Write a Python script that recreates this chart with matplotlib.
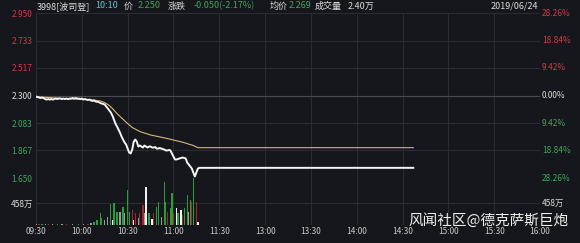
import matplotlib
matplotlib.use("Agg")
import matplotlib.pyplot as plt

plt.rcParams['font.family'] = ['Noto Sans CJK SC', 'DejaVu Sans']

# trading minutes counted from 09:30, lunch break removed (11:30 -> 13:00 is one step)
time_labels = ["09:30", "10:00", "10:30", "11:00", "11:30", "13:00", "13:30",
               "14:00", "14:30", "15:00", "15:30", "16:00"]
time_ticks = list(range(0, 331, 30))

price_ticks = [2.950, 2.733, 2.517, 2.300, 2.083, 1.867, 1.650]
price_labels = ["2.950", "2.733", "2.517", "2.300", "2.083", "1.867", "1.650"]
pct_labels = ["28.26%", "18.84%", "9.42%", "0.00%", "9.42%", "18.84%", "28.26%"]
vol_tick = 458

price_min = list(range(0, 108)) + [247]
price = [2.292, 2.288, 2.284, 2.280, 2.284, 2.280, 2.272, 2.268, 2.272, 2.268,
         2.272, 2.268, 2.272, 2.276, 2.272, 2.276, 2.276, 2.272, 2.276, 2.272,
         2.276, 2.272, 2.276, 2.276, 2.280, 2.276, 2.280, 2.276, 2.276, 2.272,
         2.276, 2.268, 2.272, 2.268, 2.265, 2.268, 2.261, 2.257, 2.261, 2.253,
         2.250, 2.249, 2.241, 2.237, 2.233, 2.229, 2.213, 2.198, 2.182, 2.166,
         2.142, 2.111, 2.079, 2.056, 2.032, 2.008, 1.977, 1.953, 1.930, 1.914,
         1.882, 1.851, 1.843, 1.874, 1.937, 1.953, 1.937, 1.898, 1.906, 1.898,
         1.890, 1.906, 1.898, 1.890, 1.898, 1.898, 1.890, 1.890, 1.894, 1.882,
         1.882, 1.886, 1.882, 1.878, 1.874, 1.867, 1.867, 1.871, 1.867, 1.843,
         1.819, 1.796, 1.796, 1.800, 1.804, 1.808, 1.811, 1.808, 1.804, 1.772,
         1.756, 1.741, 1.725, 1.693, 1.662, 1.693, 1.725, 1.730, 1.730]

avg_min = [0, 9, 18, 29, 37, 42, 44, 46, 48, 50, 53, 55, 60, 63, 68, 75, 86, 96, 103, 106, 247]
avg_price = [2.288, 2.284, 2.276, 2.271, 2.265, 2.257, 2.249, 2.237, 2.221, 2.198,
             2.158, 2.135, 2.079, 2.048, 2.016, 1.989, 1.961, 1.932, 1.906, 1.889, 1.889]

vol_min = [0, 2, 4, 6, 8, 11, 14, 17, 20, 24, 28, 31, 34, 36, 38, 40, 42, 43, 45, 47,
           49, 50, 51, 53, 55, 57, 58, 60, 61, 63, 64, 65, 67, 68, 70, 71, 72, 74, 76, 77,
           79, 80, 82, 84, 85, 86, 88, 89, 90, 92, 93, 95, 96, 97, 99, 100, 101, 102, 103,
           105, 106]
vol = [25, 15, 20, 15, 20, 15, 20, 15, 15, 20, 15, 20, 30, 40, 60, 100, 250, 146, 104, 166,
       437, 104, 458, 270, 270, 374, 250, 728, 270, 312, 104, 250, 146, 250, 416, 250, 790,
       250, 125, 250, 374, 478, 166, 894, 478, 270, 354, 666, 250, 354, 250, 312, 208, 354,
       624, 270, 520, 478, 978, 478, 62]
vol_dir = ['s', 'r', 'g', 's', 'r', 's', 'g', 's', 'r', 's', 'g', 's', 'r', 's', 'g', 'g',
           'g', 'g', 's', 's', 'g', 'w', 'g', 'g', 's', 'g', 's', 'g', 'g', 'r', 'w', 'r',
           's', 'r', 'r', 's', 'w', 'g', 'w', 'r', 'g', 'g', 's', 'g', 'g', 'r', 'g', 'g',
           'r', 'w', 'g', 'w', 'r', 'g', 'g', 's', 'g', 'r', 'g', 'r', 'w']

bg = '#16171c'
grid_c = '#2b2c32'
red = '#cf3a48'
green = '#3fa55a'
white = '#dcdcdc'
bar_colors = {'g': '#2a9c3a', 'r': '#a3262a', 'w': '#f2f2f2', 's': '#9c9c9c'}

W, H = 580, 243
fig = plt.figure(figsize=(W / 100, H / 100), dpi=100, facecolor=bg)
ax = fig.add_axes([36 / W, (H - 178) / H, 504 / W, 165 / H])
vax = fig.add_axes([36 / W, (H - 225) / H, 504 / W, 47 / H])

for a in (ax, vax):
    a.set_facecolor('none')
    for s in a.spines.values():
        s.set_visible(False)
    a.set_xlim(0, 330)
    a.set_xticks(time_ticks)
    a.grid(color=grid_c, lw=0.8)
    a.set_axisbelow(True)
    a.tick_params(length=0)

# price panel
ax.set_ylim(1.650, 2.950)
ax.set_yticks(price_ticks)
ax.set_yticklabels(price_labels, fontsize=6)
ax.set_xticklabels([])
ax.tick_params(axis='y', pad=2.5)
lab_colors = [red, red, red, white, green, green, green]
for t, c in zip(ax.get_yticklabels(), lab_colors):
    t.set_color(c)
ax.axhline(2.300, color='#4a4b52', lw=0.8, zorder=1)
for v, lab, c in zip(price_ticks, pct_labels, lab_colors):
    ax.text(1.004, v, lab, transform=ax.get_yaxis_transform(), fontsize=6,
            color=c, va='center', ha='left')

ax.plot(avg_min, avg_price, color='#d2b77c', lw=0.8, zorder=3)
ax.plot(price_min, price, color='#f4f4f4', lw=1.4, zorder=4)

# volume panel
vax.set_ylim(0, 978)
vax.set_yticks([0, vol_tick])
vax.set_yticklabels(['', '458万'], fontsize=6, color=white)
vax.tick_params(axis='y', pad=2)
vax.set_xticklabels(time_labels, fontsize=6, color='#c8c8c8')
vax.tick_params(axis='x', pad=1.5)
vax.text(1.004, vol_tick, '458万', transform=vax.get_yaxis_transform(), fontsize=6,
         color=white, va='center', ha='left')
vax.bar(vol_min, vol, width=0.8, color=[bar_colors[d] for d in vol_dir], zorder=3)

# header
header = [(37, "3998[波司登]", white), (95, "10:10", '#5fc7cf'), (124, "价", white),
          (138, "2.250", green), (168, "涨跌", white), (194, "-0.050(-2.17%)", green),
          (270, "均价", white), (289, "2.269", green), (315, "成交量", white),
          (348, "2.40万", white)]
for x, s, c in header:
    fig.text(x / W, (H - 6) / H, s, fontsize=6.5, color=c, va='center', ha='left')
fig.text(538 / W, (H - 6) / H, "2019/06/24", fontsize=6.5, color=white,
         va='center', ha='right')

fig.text(408 / W, (H - 221) / H, "风闻社区@德克萨斯巨炮", fontsize=10.5,
         color='#f0f0f0', va='center', ha='left')

fig.savefig('out.png', dpi=100, facecolor=bg)
